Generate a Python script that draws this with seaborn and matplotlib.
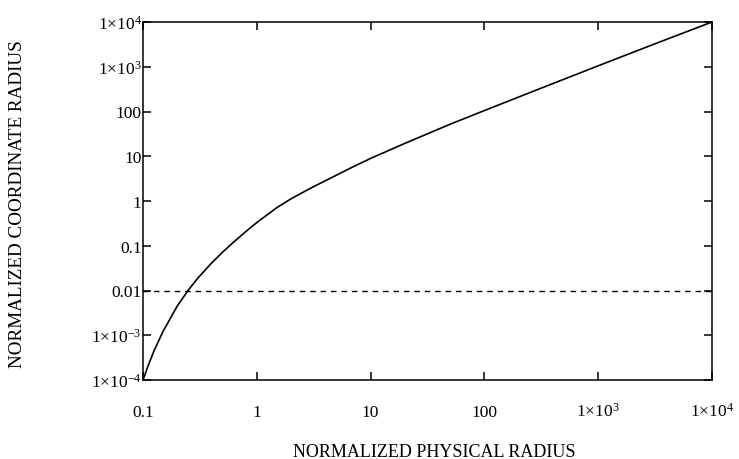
import numpy as np
import pandas as pd
import matplotlib
matplotlib.use("Agg")
import matplotlib.pyplot as plt
import matplotlib.ticker as mticker
import seaborn as sns


# ------------------------------------------------------------------------------------------
# ------------------------------------------ DATA ------------------------------------------
# ------------------------------------------------------------------------------------------

physical_radius = [0.1, 0.11, 0.125, 0.15, 0.2, 0.25, 0.3, 0.4, 0.5, 0.6, 0.8, 1, 1.5, 2, 3,
                   5, 7, 10, 20, 50, 100, 300, 1000, 3000, 10000]
coordinate_radius = [1e-4, 1.97e-4, 4.5e-4, 1.22e-3, 4.5e-3, 0.0102, 0.0183, 0.041, 0.0716,
                     0.11, 0.207, 0.33, 0.71, 1.12, 1.96, 3.77, 5.8, 8.95, 19.4, 52, 105, 316,
                     1050, 3100, 10000]
threshold = 0.01

x_ticks = [0.1, 1, 10, 100, 1e3, 1e4]
x_tick_labels = ["0.1", "1", "10", "100", r"$1{\times}10^{3}$", r"$1{\times}10^{4}$"]
y_ticks = [1e-4, 1e-3, 0.01, 0.1, 1, 10, 100, 1e3, 1e4]
y_tick_labels = [r"$1{\times}10^{-4}$", r"$1{\times}10^{-3}$", "0.01", "0.1", "1", "10", "100",
                 r"$1{\times}10^{3}$", r"$1{\times}10^{4}$"]

df = pd.DataFrame({"r_phys": physical_radius, "r_coord": coordinate_radius})


# ------------------------------------------------------------------------------------------
# ------------------------------------------ PLOT ------------------------------------------
# ------------------------------------------------------------------------------------------

sns.set_theme(style="white")
plt.rcParams["font.family"] = ["Liberation Serif", "DejaVu Serif"]
plt.rcParams["mathtext.fontset"] = "custom"
plt.rcParams["mathtext.rm"] = "Liberation Serif"
plt.rcParams["mathtext.it"] = "Liberation Serif:italic"
plt.rcParams["mathtext.bf"] = "Liberation Serif:bold"

fig = plt.figure(figsize=(7.39, 4.60), dpi=100)
ax = fig.add_axes([143 / 739, 1 - 381 / 460, 569 / 739, 358 / 460])
ax.set_xscale("log")
ax.set_yscale("log")

sns.lineplot(data=df, x="r_phys", y="r_coord", ax=ax, color="black", linewidth=1.2,
             estimator=None, sort=False)
ax.axhline(threshold, color="black", linewidth=1.0, dashes=(4, 3.5))

ax.set_xlim(0.1, 1e4)
ax.set_ylim(1e-4, 1e4)

ax.xaxis.set_major_locator(mticker.FixedLocator(x_ticks))
ax.xaxis.set_major_formatter(mticker.FixedFormatter(x_tick_labels))
ax.yaxis.set_major_locator(mticker.FixedLocator(y_ticks))
ax.yaxis.set_major_formatter(mticker.FixedFormatter(y_tick_labels))
ax.xaxis.set_minor_locator(mticker.NullLocator())
ax.yaxis.set_minor_locator(mticker.NullLocator())

ax.tick_params(axis="both", which="major", direction="in", length=6, width=1.1,
               color="black", labelsize=12.5, labelcolor="black",
               top=True, right=True, bottom=True, left=True)
ax.tick_params(axis="y", pad=1)
ax.tick_params(axis="x", pad=26)
for tick in ax.xaxis.get_major_ticks(len(x_ticks)):
    tick.label1.set_verticalalignment("baseline")

for spine in ax.spines.values():
    spine.set_color("black")
    spine.set_linewidth(1.1)
    spine.set_visible(True)

ax.set_xlabel("NORMALIZED PHYSICAL RADIUS", fontsize=13, color="black")
ax.set_ylabel("NORMALIZED COORDINATE RADIUS", fontsize=13.8, color="black")
ax.xaxis.set_label_coords(0.511, -0.176)
ax.yaxis.set_label_coords(-0.206, 0.493)

fig.savefig("out.png", dpi=100)
